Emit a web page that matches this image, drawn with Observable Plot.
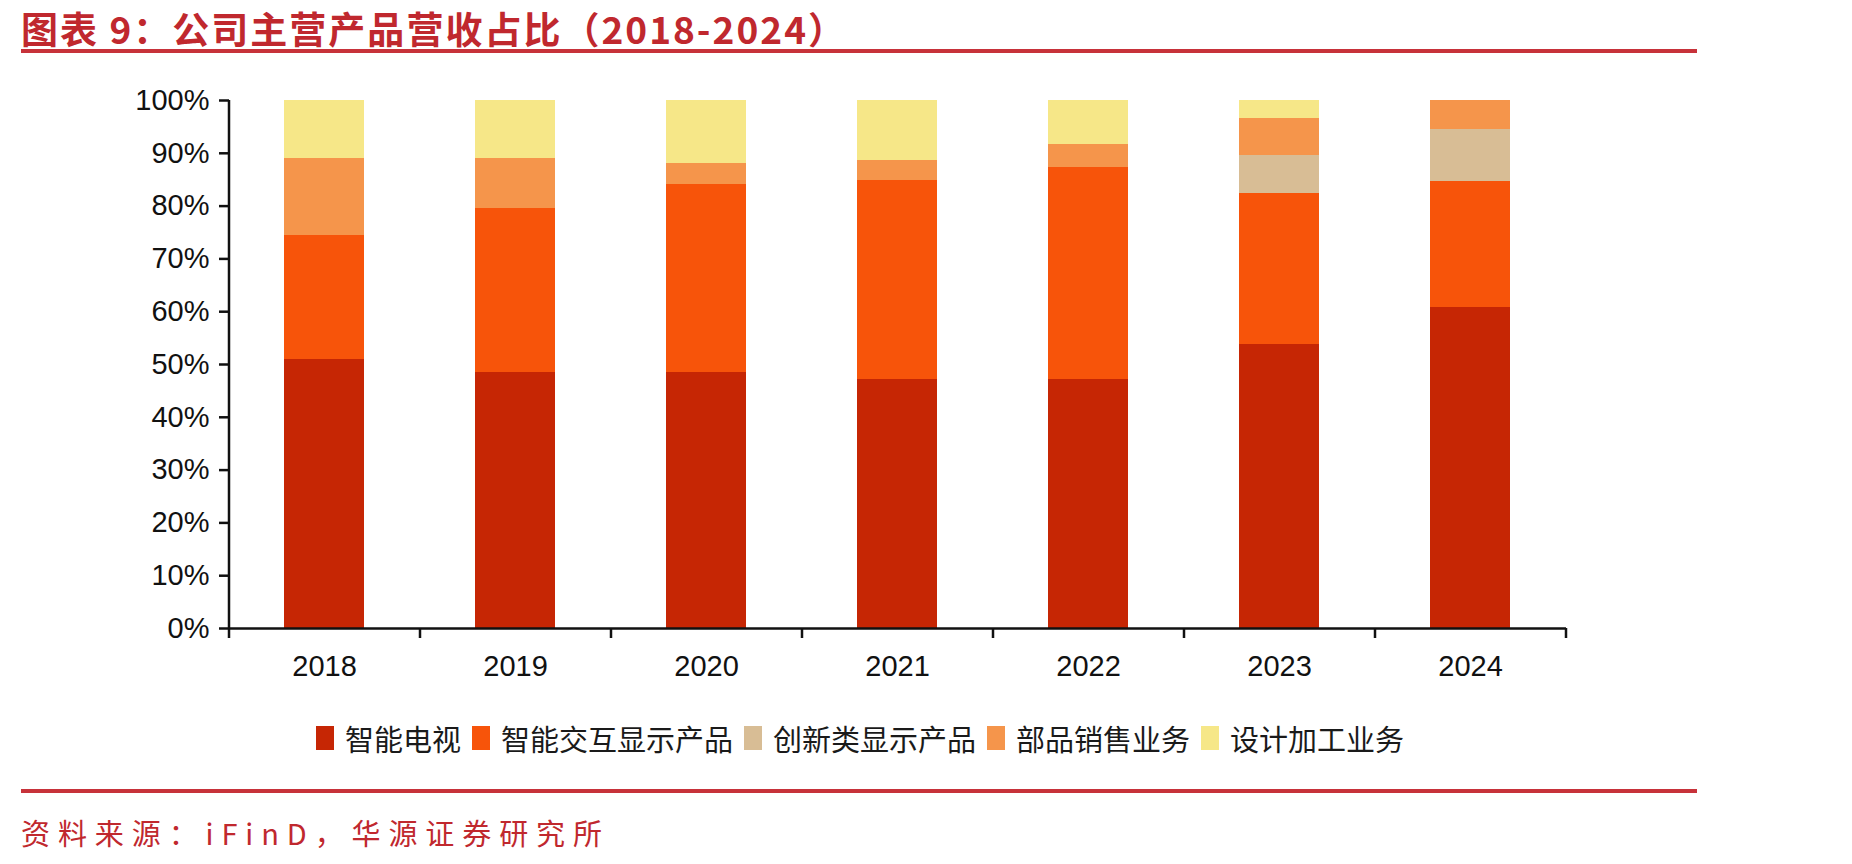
<!DOCTYPE html>
<html>
<head>
<meta charset="utf-8">
<script src="https://cdn.jsdelivr.net/npm/d3@7"></script>
<script src="https://cdn.jsdelivr.net/npm/@observablehq/plot@0.6"></script>
<style>
  html, body { margin: 0; padding: 0; background: #fff; }
  #page { position: relative; width: 1852px; height: 864px; overflow: hidden; background: #fff; }
  #decor { position: absolute; left: 0; top: 0; }
  #chart { position: absolute; left: 0; top: 70px; }
  #legend {
    position: absolute; left: 316px; top: 724px; height: 28px;
    display: flex; align-items: center;
    font-family: "Noto Sans CJK SC", sans-serif; font-size: 29px; color: #1a1a1a;
  }
  #legend .item { display: flex; align-items: center; margin-right: 11px; }
  #legend .sw { width: 18px; height: 24px; margin-right: 11px; }
  #legend .lb { line-height: 28px; white-space: nowrap; }
</style>
</head>
<body>
<div id="page">
  <svg id="decor" width="1852" height="864">
    <text id="title" x="21" y="44" fill="#c0282e" font-family="Noto Sans CJK SC, sans-serif" font-weight="700" font-size="37" textLength="824" lengthAdjust="spacing">图表 9：公司主营产品营收占比（2018-2024）</text>
    <rect x="21" y="49" width="1676" height="4" fill="#c7323a"></rect>
    <rect x="21" y="789" width="1676" height="4" fill="#c7323a"></rect>
    <text id="source" x="21" y="845" fill="#c0282e" font-family="Noto Sans CJK SC, sans-serif" font-weight="400" font-size="29" textLength="581" lengthAdjust="spacing">资料来源：iFinD，华源证券研究所</text>
  </svg>
  <div id="chart"></div>
  <div id="legend"></div>
</div>
<script>
// Revenue share by product line, in percent of total revenue per year
const years = ["2018", "2019", "2020", "2021", "2022", "2023", "2024"];
const seriesNames = ["智能电视", "智能交互显示产品", "创新类显示产品", "部品销售业务", "设计加工业务"];
const tvShare          = [51.0, 48.5, 48.5, 47.1, 47.2, 53.7, 60.8];
const interactiveShare = [23.4, 31.0, 35.6, 37.7, 40.1, 28.6, 23.8];
const innovativeShare  = [0.0, 0.0, 0.0, 0.0, 0.0, 7.2, 10.0];
const partsShare       = [14.6, 9.5, 4.0, 3.9, 4.4, 7.0, 5.4];
const designShare      = [11.0, 11.0, 11.9, 11.3, 8.3, 3.5, 0.0];
const yTicks = [0, 10, 20, 30, 40, 50, 60, 70, 80, 90, 100];
const seriesColors = ["#c62604", "#f7540a", "#d8bd95", "#f5954b", "#f6e788"];

const seriesValues = [tvShare, interactiveShare, innovativeShare, partsShare, designShare];

// Long table, series order = stacking order (bottom to top)
const rows = [];
years.forEach((year, i) => {
  seriesNames.forEach((name, s) => {
    rows.push({year, series: name, value: seriesValues[s][i]});
  });
});

const W = 1852, H = 618;
const mL = 229, mR = 286, mT = 30, mB = 60;
const step = (W - mL - mR) / years.length;          // band step (outer padding = inner/2)
const tickLen = 10 / (H - mT - mB) * 100;          // 10px expressed in y units
const axisW = 2.5;

const chart = Plot.plot({
  width: W,
  height: H,
  marginLeft: mL,
  marginRight: mR,
  marginTop: mT,
  marginBottom: mB,
  style: {fontFamily: "Liberation Sans, Arial, sans-serif", fontSize: "29px", color: "#111", background: "transparent"},
  x: {domain: years, paddingInner: 0.58, paddingOuter: 0.29, label: null},
  y: {domain: [0, 100], label: null},
  color: {domain: seriesNames, range: seriesColors},
  marks: [
    Plot.barY(rows, {x: "year", y: "value", fill: "series", shapeRendering: "crispEdges"}),
    Plot.axisY({ticks: yTicks, tickFormat: d => d + "%", tickSize: 10, tickPadding: 10, strokeWidth: axisW, label: null}),
    Plot.axisX({tickSize: 0, tickPadding: 27, label: null}),
    // axis lines
    Plot.ruleY([0], {strokeWidth: axisW}),
    Plot.ruleX([years[0]], {x: d => d, y1: 0, y2: 100, dx: -step / 2, strokeWidth: axisW}),
    // category boundary ticks below the x axis
    Plot.ruleX(years, {x: d => d, y1: 0, y2: -tickLen, dx: -step / 2, strokeWidth: axisW}),
    Plot.ruleX([years[years.length - 1]], {x: d => d, y1: 0, y2: -tickLen, dx: step / 2, strokeWidth: axisW})
  ]
});
document.getElementById("chart").appendChild(chart);

// Legend
const legend = document.getElementById("legend");
seriesNames.forEach((name, i) => {
  const item = document.createElement("div");
  item.className = "item";
  const sw = document.createElement("div");
  sw.className = "sw";
  sw.style.background = seriesColors[i];
  const lb = document.createElement("div");
  lb.className = "lb";
  lb.textContent = name;
  item.appendChild(sw);
  item.appendChild(lb);
  legend.appendChild(item);
});
</script>
</body>
</html>
